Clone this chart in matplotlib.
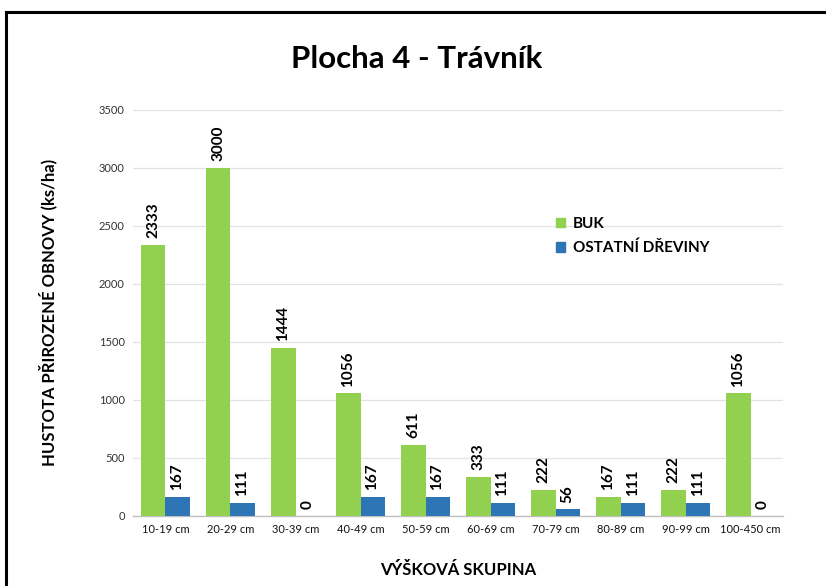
import matplotlib
matplotlib.use("Agg")
import matplotlib.pyplot as plt
import numpy as np
from matplotlib.lines import Line2D
from matplotlib.patches import Patch

categories = ["10-19 cm", "20-29 cm", "30-39 cm", "40-49 cm", "50-59 cm",
              "60-69 cm", "70-79 cm", "80-89 cm", "90-99 cm", "100-450 cm"]
buk = [2333, 3000, 1444, 1056, 611, 333, 222, 167, 222, 1056]
ostatni = [167, 111, 0, 167, 167, 111, 56, 111, 111, 0]
series_names = ["BUK", "OSTATNÍ DŘEVINY"]
yticks = [0, 500, 1000, 1500, 2000, 2500, 3000, 3500]

plt.rcParams['font.family'] = ['Lato', 'DejaVu Sans']

green = "#92D050"
blue = "#2E75B6"

fig = plt.figure(figsize=(8.26, 5.86), dpi=100)
ax = fig.add_axes([0.161, 0.1195, 0.787, 0.693])

x = np.arange(len(categories))
w = 0.37
b1 = ax.bar(x - w/2, buk, w, color=green, zorder=3)
b2 = ax.bar(x + w/2, ostatni, w, color=blue, zorder=3)

for rects, vals in ((b1, buk), (b2, ostatni)):
    for r, v in zip(rects, vals):
        ax.annotate(str(v), (r.get_x() + r.get_width()/2, r.get_height()),
                    xytext=(0, 5), textcoords="offset points",
                    rotation=90, ha="center", va="bottom",
                    fontsize=11, fontweight="bold", color="black")

ax.set_xlim(-0.5, len(categories) - 0.5)
ax.set_ylim(0, 3500)
ax.set_yticks(yticks)
ax.set_yticklabels([str(t) for t in yticks], fontsize=8, color="#333333")
ax.set_xticks(x)
ax.set_xticklabels(categories, fontsize=8, color="#111111")
ax.tick_params(axis="both", length=0, pad=6)
ax.grid(axis="y", color="#E3E3E3", linewidth=0.9, zorder=0)
for s in ("top", "right", "left"):
    ax.spines[s].set_visible(False)
ax.spines["bottom"].set_color("#BFBFBF")
ax.spines["bottom"].set_linewidth(1.0)

ax.set_ylabel("HUSTOTA PŘIROZENÉ OBNOVY (ks/ha)", fontsize=12, fontweight="bold", labelpad=30)
ax.set_xlabel("VÝŠKOVÁ SKUPINA", fontsize=12, fontweight="bold", labelpad=19)

fig.text(0.505, 0.900, "Plocha 4 - Trávník", ha="center", va="center",
         fontsize=22.5, fontweight="bold")

handles = [Patch(color=green, label=series_names[0]),
           Patch(color=blue, label=series_names[1])]
leg = ax.legend(handles=handles, loc="upper left", bbox_to_anchor=(0.63, 0.77),
                frameon=False, prop={"weight": "bold", "size": 11},
                handlelength=0.6, handleheight=0.6, handletextpad=0.5,
                labelspacing=0.65)

# outer frame (top and left visible)
fig.add_artist(Line2D([6/826, 1.0], [1 - 12/586, 1 - 12/586], color="black",
                      linewidth=2.2, transform=fig.transFigure))
fig.add_artist(Line2D([6/826, 6/826], [0, 1 - 12/586], color="black",
                      linewidth=2.2, transform=fig.transFigure))

fig.savefig("out.png", dpi=100)
